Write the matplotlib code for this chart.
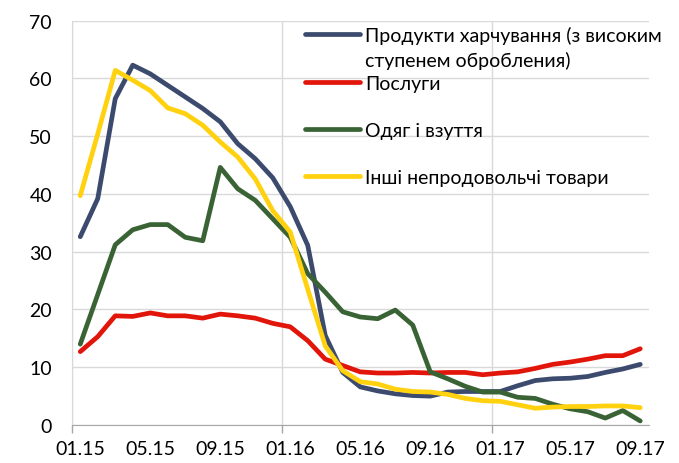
import matplotlib
matplotlib.use('Agg')
import matplotlib.pyplot as plt
from matplotlib.lines import Line2D
from matplotlib.ticker import FixedLocator

plt.rcParams['font.family'] = ['Lato', 'DejaVu Sans']

# Monthly data, 01.15 .. 09.17 (33 months)
months = ['01.15', '02.15', '03.15', '04.15', '05.15', '06.15', '07.15', '08.15',
          '09.15', '10.15', '11.15', '12.15', '01.16', '02.16', '03.16', '04.16',
          '05.16', '06.16', '07.16', '08.16', '09.16', '10.16', '11.16', '12.16',
          '01.17', '02.17', '03.17', '04.17', '05.17', '06.17', '07.17', '08.17',
          '09.17']

food = [32.6, 39.2, 56.5, 62.3, 60.8, 58.8, 56.8, 54.8, 52.5, 48.7, 46.1, 42.8,
        37.8, 31.1, 15.5, 9.1, 6.6, 5.9, 5.4, 5.1, 5.0, 5.7, 5.8, 5.8,
        5.8, 6.8, 7.7, 8.0, 8.1, 8.4, 9.1, 9.7, 10.5]
services = [12.7, 15.3, 18.9, 18.8, 19.4, 18.9, 18.9, 18.5, 19.2, 18.9, 18.5, 17.6,
            17.0, 14.6, 11.4, 10.3, 9.2, 9.0, 9.0, 9.1, 9.0, 9.1, 9.1, 8.7,
            9.0, 9.2, 9.8, 10.5, 10.9, 11.4, 12.0, 12.0, 13.2]
clothes = [14.0, 22.6, 31.2, 33.8, 34.7, 34.7, 32.5, 31.9, 44.6, 40.9, 38.9, 35.7,
           32.5, 26.2, 23.0, 19.6, 18.7, 18.4, 19.9, 17.3, 9.2, 8.0, 6.7, 5.7,
           5.7, 4.8, 4.6, 3.6, 2.8, 2.3, 1.2, 2.5, 0.7]
other = [39.7, 50.4, 61.4, 59.7, 57.9, 54.9, 53.9, 51.9, 49.0, 46.4, 42.6, 37.1,
         33.4, 23.5, 13.7, 9.4, 7.5, 7.1, 6.2, 5.8, 5.7, 5.3, 4.6, 4.2,
         4.1, 3.5, 2.9, 3.1, 3.2, 3.2, 3.3, 3.3, 3.0]

series = [
    (food, '#3C4A6E', 'Продукти харчування (з високим'),
    (services, '#E2150B', 'Послуги'),
    (clothes, '#3A6335', 'Одяг і взуття'),
    (other, '#FFD10F', 'Інші непродовольчі товари'),
]

fig = plt.figure(figsize=(6.79, 4.64), dpi=100)
ax = fig.add_axes([71.5 / 679, 1 - 426 / 464, (649 - 71.5) / 679, (426 - 21.7) / 464])

x = list(range(len(months)))
for vals, col, lab in series:
    ax.plot(x, vals, color=col, lw=3.4, solid_capstyle='round',
            solid_joinstyle='round', zorder=3)

ax.set_xlim(-0.5, len(months) - 0.5)
ax.set_ylim(0, 70)
ax.set_yticks(range(0, 71, 10))

ax.set_xticks(x[::4])
ax.set_xticklabels(months[::4])
ax.xaxis.set_minor_locator(FixedLocator([-0.5, 11.5, 23.5]))
ax.tick_params(axis='x', which='major', length=0, pad=11, labelsize=14)
ax.tick_params(axis='x', which='minor', length=6, width=1, color='#A6A6A6')
ax.tick_params(axis='y', length=0, pad=14, labelsize=14)

ax.grid(axis='y', color='#D9D9D9', lw=1)
ax.grid(axis='x', which='minor', color='#D9D9D9', lw=1)
ax.set_axisbelow(True)
for s in ['top', 'right']:
    ax.spines[s].set_visible(False)
ax.spines['left'].set_color('#D9D9D9')
ax.spines['bottom'].set_color('#A6A6A6')

# legend: blank rows give the Excel-like spacing
blank = Line2D([], [], color='none')
handles = [
    Line2D([], [], color=series[0][1], lw=3.4, solid_capstyle='round'), blank,
    Line2D([], [], color=series[1][1], lw=3.4, solid_capstyle='round'), blank,
    Line2D([], [], color=series[2][1], lw=3.4, solid_capstyle='round'), blank,
    Line2D([], [], color=series[3][1], lw=3.4, solid_capstyle='round'),
]
labels = [series[0][2], 'ступенем обробления)', series[1][2], ' ',
          series[2][2], ' ', series[3][2]]
leg = ax.legend(handles, labels, loc='upper left',
                bbox_to_anchor=(305 / 679, 1 - 27 / 464),
                bbox_transform=fig.transFigure, frameon=False,
                fontsize=14, handlelength=2.85, handletextpad=0.25,
                labelspacing=0.33, borderpad=0, borderaxespad=0)

fig.savefig('out.png', dpi=100)
